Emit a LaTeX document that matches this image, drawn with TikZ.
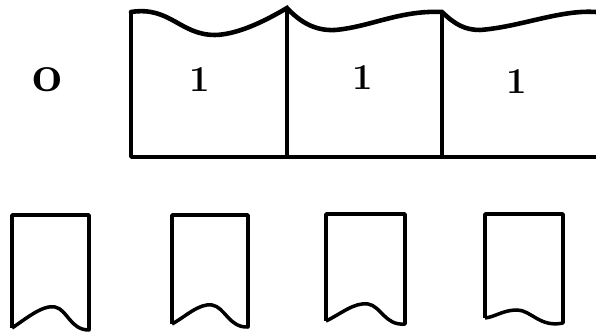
\documentclass[tikz,border=0pt]{standalone}
\usepackage{tikz}

\tikzset{
  boxline/.style={line width=2pt, line join=round},
  waveline/.style={line width=2.6pt, line cap=round},
  flagline/.style={line width=2pt, line join=round},
  digit/.style={font=\huge\bfseries, inner sep=0pt},
}

\begin{document}
\begin{tikzpicture}
    \useasboundingbox (0,0) rectangle (11.92,6.64);
    % Strip of three cells
    \draw[boxline] (2.62,6.40) -- (2.62,3.50) -- (11.92,3.50);
    \draw[boxline] (5.74,3.50) -- (5.74,6.48);
    \draw[boxline] (8.84,3.50) -- (8.84,6.40);
    % Torn upper edge
    \draw[waveline] (2.62,6.40) .. controls (3.4,6.52) and (3.6,5.94) .. (4.3,5.94) .. controls (4.8,5.95) and (5.4,6.28) .. (5.74,6.48)
        .. controls (6.0,6.2) and (6.3,6.02) .. (6.7,6.04) .. controls (7.4,6.1) and (8.0,6.44) .. (8.84,6.40)
        .. controls (9.1,6.15) and (9.3,6.04) .. (9.6,6.04) .. controls (10.4,6.1) and (11.2,6.45) .. (11.92,6.40);
    % Labels
    \node[digit, scale=1.45, transform shape] (zero) at (0.94,5.04) {o};
    \node[digit] (cellA) at (4.00,5.04) {1};
    \node[digit] (cellB) at (7.26,5.08) {1};
    \node[digit] (cellC) at (10.34,5.00) {1};
    % Flags
    \draw[flagline] (0.24,0.08) -- (0.24,2.34) -- (1.78,2.34) -- (1.78,0.04)
        .. controls (1.40,0.04) and (1.35,0.45) .. (1.10,0.50) .. controls (0.85,0.55) and (0.50,0.25) .. (0.24,0.08);
    \draw[flagline] (3.44,0.16) -- (3.44,2.34) -- (4.96,2.34) -- (4.96,0.10)
        .. controls (4.58,0.08) and (4.50,0.50) .. (4.24,0.54) .. controls (3.98,0.58) and (3.70,0.30) .. (3.44,0.16);
    \draw[flagline] (6.52,0.22) -- (6.52,2.36) -- (8.10,2.36) -- (8.10,0.16)
        .. controls (7.70,0.12) and (7.62,0.52) .. (7.36,0.56) .. controls (7.08,0.60) and (6.80,0.35) .. (6.52,0.22);
    \draw[flagline] (9.70,0.28) -- (9.70,2.36) -- (11.26,2.36) -- (11.26,0.18)
        .. controls (10.80,0.08) and (10.62,0.44) .. (10.34,0.44) .. controls (10.06,0.44) and (9.90,0.30) .. (9.70,0.28);
\end{tikzpicture}
\end{document}
